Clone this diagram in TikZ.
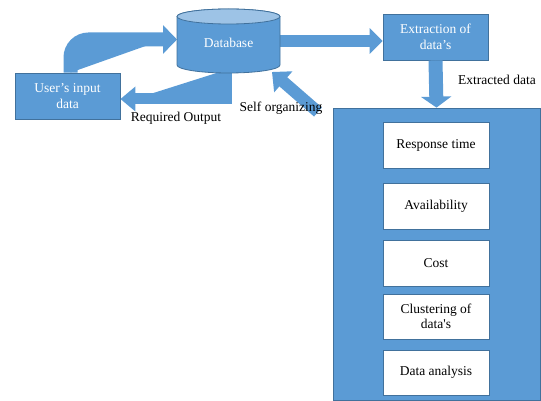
\documentclass[tikz,border=0pt]{standalone}
\usepackage{fontspec}
\setmainfont{Liberation Serif}
\usetikzlibrary{arrows.meta,calc}
\definecolor{fillblue}{HTML}{5B9BD5}
\definecolor{lineblue}{HTML}{41719C}
\definecolor{topblue}{HTML}{9DC3E6}
\tikzset{
  bluebox/.style={draw=lineblue, fill=fillblue, line width=0.8pt, text=white, align=center, inner sep=0pt, font=\fontsize{13.5}{15.5}\selectfont},
  whitebox/.style={draw=lineblue, fill=white, line width=0.8pt, text=black, align=center, inner sep=0pt, minimum width=106pt, font=\fontsize{13.5}{15.5}\selectfont},
  lbl/.style={text=black, inner sep=0pt, font=\fontsize{13.5}{15.5}\selectfont},
  blockarrow/.style={draw=fillblue, fill=fillblue, line join=miter}
}
\begin{document}
\begin{tikzpicture}[x=1pt,y=-1pt]
\useasboundingbox (0,0) rectangle (541,401);
% nodes
\node[bluebox, minimum width=105pt, minimum height=46pt] (user) at (67.5,96) {User’s input\\data};
\node[bluebox, minimum width=105pt, minimum height=46pt] (extr) at (435.5,37) {Extraction of\\data’s};
\node[bluebox, minimum width=207pt, minimum height=292pt] (big) at (436.5,254) {};
% database coordinates
\coordinate (dbL) at (177,39.5);
\coordinate (dbB) at (226,70);
\coordinate (dbR) at (278,41);
\coordinate (so1) at (318,112);
\coordinate (so2) at (272,72);
% arrows
\draw[blockarrow, line width=14pt, rounded corners=18pt, -{Triangle[length=14pt,width=28pt]}]
  ($(user.north)+(3,0)$) |- (dbL);
\draw[blockarrow, line width=11pt, -{Triangle[length=15pt,width=24pt]}]
  (dbB) |- ($(user.east)+(0,3)$);
\draw[blockarrow, line width=12pt, -{Triangle[length=13pt,width=25pt]}]
  (dbR) -- (dbR -| extr.west);
\draw[blockarrow, line width=14pt, -{Triangle[length=11pt,width=30pt]}]
  (extr.south) -- (big.north);
\draw[blockarrow, line width=12pt, -{Triangle[length=15pt,width=27pt]}]
  (so1) -- (so2);
% database cylinder
\path[draw=lineblue, fill=fillblue, line width=0.8pt]
  (177,16.5) -- (177,65) arc (180:0:51.5 and 8) -- (280,16.5) arc (0:-180:51.5 and 7.5) -- cycle;
\path[draw=lineblue, fill=topblue, line width=0.8pt] (228.5,16.5) ellipse (51.5 and 7.5);
\node[bluebox, draw=none, fill=none] (db) at (228.5,43) {Database};
% inner boxes
\node[whitebox, minimum height=46pt] (rt) at (436,145) {Response time};
\node[whitebox, minimum height=46pt] (av) at (436,206) {Availability};
\node[whitebox, minimum height=46pt] (co) at (436,263) {Cost};
\node[whitebox, minimum height=45pt] (cl) at (436,316.5) {Clustering of\\data\textquotesingle s};
\node[whitebox, minimum height=45pt] (da) at (436,372.5) {Data analysis};
% labels
\node[lbl] (l1) at (176,118) {Required Output};
\node[lbl] (l2) at (497,80) {Extracted data};
\node[lbl] (l3) at (281,108) {Self organizing};
\end{tikzpicture}
\end{document}
